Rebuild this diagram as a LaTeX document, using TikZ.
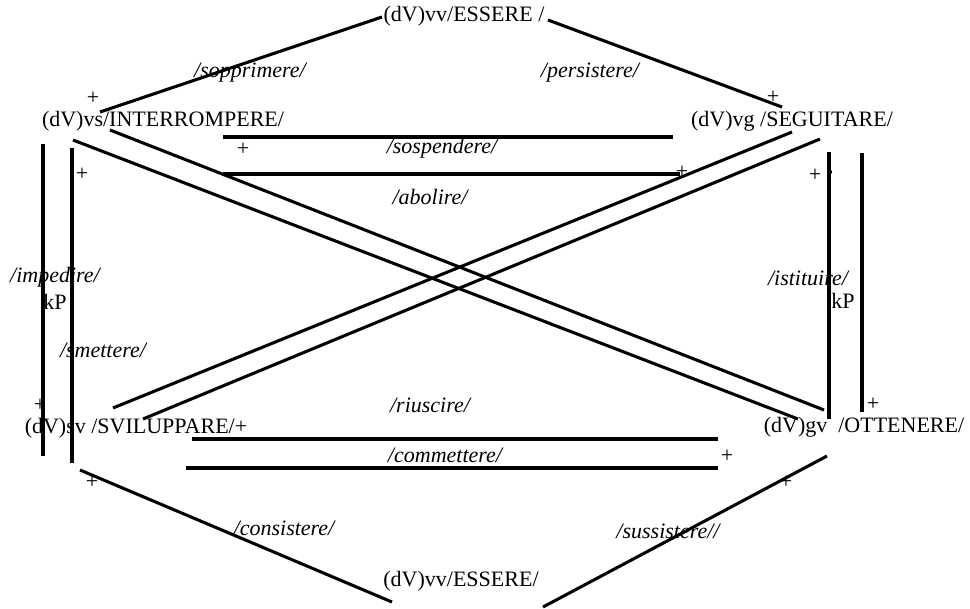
\documentclass[tikz,border=0pt]{standalone}
\usepackage{fontspec}
\setmainfont{Liberation Serif}

\begin{document}
\begin{tikzpicture}[x=0.75pt,y=-0.75pt,font=\fontsize{16.5}{19}\selectfont,
term/.style={inner sep=0pt},
lab/.style={inner sep=0pt,font=\fontsize{16.5}{19}\selectfont\itshape},
sgn/.style={inner sep=0pt},
rel/.style={line width=2.3pt}]
\useasboundingbox (0,0) rectangle (970,608);
% verbi
\node[term] (vvtop) at (464,16) {(dV)vv/ESSERE /};
\node[term] (vs) at (163,121) {(dV)vs/INTERROMPERE/};
\node[term] (vg) at (792,121) {(dV)vg /SEGUITARE/};
\node[term] (sv) at (136,428) {(dV)sv /SVILUPPARE/+};
\node[term] (gv) at (864,427) {(dV)gv\ \ /OTTENERE/};
\node[term] (vvbot) at (461,581) {(dV)vv/ESSERE/};
% etichette
\node[lab] (sopprimere) at (250,73) {/sopprimere/};
\node[lab] (persistere) at (590,73) {/persistere/};
\node[lab] (sospendere) at (442,148) {/sospendere/};
\node[lab] (abolire) at (430,197) {/abolire/};
\node[lab] (impedire) at (55,277) {/impedire/};
\node[term] (kPl) at (55,302) {kP};
\node[lab] (smettere) at (103,350) {/smettere/};
\node[lab] (istituire) at (808,278) {/istituire/};
\node[term] (kPr) at (843,301) {kP};
\node[lab] (riuscire) at (430,405) {/riuscire/};
\node[lab] (commettere) at (445,455) {/commettere/};
\node[lab] (consistere) at (284,528) {/consistere/};
\node[lab] (sussistere) at (668,531) {/sussistere//};
% estremi delle linee
\coordinate (sopa) at (100,112); \coordinate (sopb) at (382,17);
\coordinate (pera) at (548,20);  \coordinate (perb) at (782,107);
\coordinate (sosa) at (223,137); \coordinate (sosb) at (673,137);
\coordinate (aboa) at (223,174); \coordinate (abob) at (680,174);
\coordinate (vsa) at (73,140);   \coordinate (vsb) at (798,419);
\coordinate (vsc) at (110,130);  \coordinate (vsd) at (824,410);
\coordinate (vga) at (792,132);  \coordinate (vgb) at (113,408);
\coordinate (vgc) at (820,139);  \coordinate (vgd) at (143,419);
\coordinate (impa) at (43,144);  \coordinate (impb) at (43,456);
\coordinate (sma) at (72,148);   \coordinate (smb) at (72,463);
\coordinate (ista) at (829,152); \coordinate (istb) at (829,419);
\coordinate (kpa) at (862,153);  \coordinate (kpb) at (862,412);
\coordinate (ria) at (192,439);  \coordinate (rib) at (718,439);
\coordinate (coma) at (186,468); \coordinate (comb) at (718,468);
\coordinate (cona) at (80,470);  \coordinate (conb) at (392,602);
\coordinate (susa) at (827,456); \coordinate (susb) at (543,607);
\foreach \a/\b in {sopa/sopb,pera/perb,sosa/sosb,aboa/abob,vsa/vsb,vsc/vsd,vga/vgb,vgc/vgd,
  impa/impb,sma/smb,ista/istb,kpa/kpb,ria/rib,coma/comb,cona/conb,susa/susb}
  \draw[rel] (\a) -- (\b);
% segni
\foreach \p [count=\i] in {(93,98),(773,97),(243,149),(682,172),(82,174),(815,175),
  (40,405),(873,404),(727,456),(92,482),(786,482)}
  \node[sgn] (piu\i) at \p {+};
\fill (830,172) circle (1.6pt);
\end{tikzpicture}
\end{document}
